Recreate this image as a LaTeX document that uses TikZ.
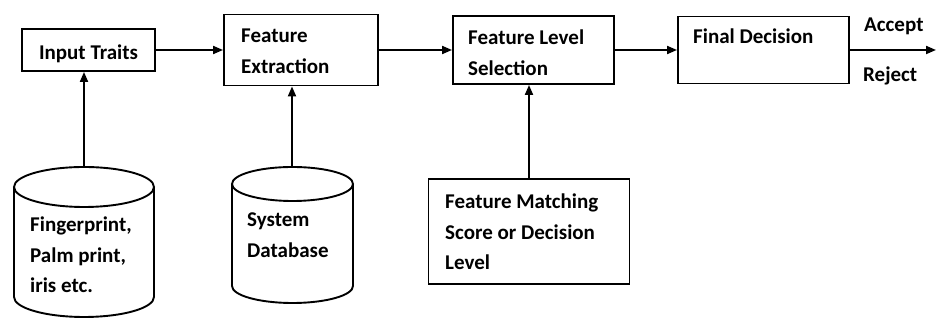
\documentclass[tikz,border=0pt]{standalone}
\usepackage{fontspec}
\setmainfont{Carlito}
\usetikzlibrary{arrows.meta}
% multi-line label whose baseline is that of its first line
\newcommand\stacked[1]{\begin{tabular}[t]{@{}l@{}}#1\end{tabular}}
\begin{document}
\begin{tikzpicture}[x=1pt,y=1pt,
  box/.style={draw, line width=1.9pt, inner sep=0pt},
  flow/.style={line width=1.9pt, -{Triangle[length=10pt,width=8pt]}},
  lbl/.style={inner sep=0pt, anchor=base west, font=\fontsize{21}{30.5}\selectfont\bfseries},
  drum/.style={line width=1.9pt}]
\useasboundingbox (0,0) rectangle (937,320);

% processing blocks
\node[box, minimum width=133pt, minimum height=42pt] (inp) at (88.5,270) {};
\node[box, minimum width=154pt, minimum height=71pt] (fe) at (301,270) {};
\node[box, minimum width=161pt, minimum height=68pt] (fls) at (533.5,270) {};
\node[box, minimum width=171pt, minimum height=67pt] (fd) at (763.5,270) {};
\node[box, minimum width=201pt, minimum height=105pt] (fm) at (529,88.5) {};

% block texts
\node[lbl, anchor=base] (inptxt) at (88.5,260) {Input Traits};
\node[lbl] (fetxt) at (241,277) {\stacked{Feature\\Extraction}};
\node[lbl] (flstxt) at (468,275) {\stacked{Feature Level\\Selection}};
\node[lbl] (fdtxt) at (693,276) {Final Decision};
\node[lbl] (fmtxt) at (445,111) {\stacked{Feature Matching\\Score or Decision\\Level}};
\node[lbl] (acc) at (864,288) {Accept};
\node[lbl] (rej) at (863,238) {Reject};

% biometric source drum
\draw[drum] (14,133) -- (14,23) arc[start angle=180, end angle=360, x radius=70pt, y radius=20pt] -- (154,133);
\draw[drum] (84,133) ellipse[x radius=70pt, y radius=20pt];
\coordinate (drumA) at (84,153);
\node[lbl] (drumAtxt) at (30,88) {\stacked{Fingerprint,\\Palm print,\\iris etc.}};

% system database drum
\draw[drum] (232,136) -- (232,34) arc[start angle=180, end angle=360, x radius=60.5pt, y radius=17pt] -- (353,136);
\draw[drum] (292.5,136) ellipse[x radius=60.5pt, y radius=17pt];
\coordinate (drumB) at (292,153);
\node[lbl] (drumBtxt) at (247,93) {\stacked{System\\Database}};

% connectors
\coordinate (outend) at (936,270);
\draw[flow] (inp.east) -- (inp.east -| fe.west);
\draw[flow] (fe.east) -- (fe.east -| fls.west);
\draw[flow] (fls.east) -- (fls.east -| fd.west);
\draw[flow] (fd.east) -- (outend);
\draw[flow] (drumA) -- (drumA |- inp.south);
\draw[flow] (drumB) -- (drumB |- fe.south);
\draw[flow] (fm.north) -- (fm.north |- fls.south);
\end{tikzpicture}
\end{document}
